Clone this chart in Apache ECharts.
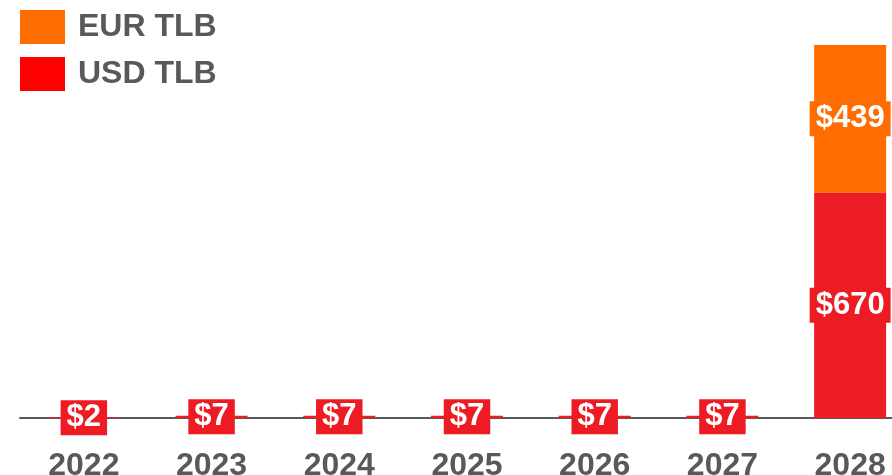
<!DOCTYPE html>
<html>
<head>
<meta charset="utf-8">
<script src="https://cdn.jsdelivr.net/npm/echarts@6/dist/echarts.min.js"></script>
<style>html,body{margin:0;padding:0;background:#fff}#c{width:892px;height:475px}</style>
</head>
<body>
<div id="c"></div>
<script>
var years = ['2022', '2023', '2024', '2025', '2026', '2027', '2028'];
var usdTLB = [2, 7, 7, 7, 7, 7, 670];
var eurTLB = [null, null, null, null, null, null, 439];

var chart = echarts.init(document.getElementById('c'), null, {renderer: 'canvas'});
var FONT = '"Liberation Sans", Arial, sans-serif';
var GREY = '#595959';
function lbl(bg) {
  return {
    show: true, position: 'inside', formatter: '${c}',
    color: '#fff', fontFamily: FONT, fontWeight: 'bold', fontSize: 31,
    backgroundColor: bg, padding: [2, 6, 1, 6], lineHeight: 32
  };
}
chart.setOption({
  animation: false,
  legend: {
    orient: 'vertical', left: 20, top: 10, padding: 0,
    itemWidth: 45, itemHeight: 34, itemGap: 13,
    icon: 'rect',
    textStyle: {color: GREY, fontFamily: FONT, fontWeight: 'bold', fontSize: 32, padding: [0, 0, 0, 8]},
    data: [
      {name: 'EUR TLB', itemStyle: {color: '#FF6D00'}},
      {name: 'USD TLB', itemStyle: {color: '#FF0000'}}
    ]
  },
  grid: {left: 20, top: 45, width: 894, height: 373, outerBoundsMode: 'none', containLabel: false},
  xAxis: {
    type: 'category', data: years,
    axisLine: {lineStyle: {color: GREY, width: 2}},
    axisTick: {show: false},
    axisLabel: {color: GREY, fontFamily: FONT, fontWeight: 'bold', fontSize: 32, margin: 32}
  },
  yAxis: {type: 'value', min: 0, max: 1109, show: false, splitLine: {show: false}},
  series: [
    {name: 'USD TLB', type: 'bar', stack: 'a', barWidth: 72, data: usdTLB,
     itemStyle: {color: '#ED1C24'}, label: lbl('#ED1C24'), z: 3},
    {name: 'EUR TLB', type: 'bar', stack: 'a', barWidth: 72, data: eurTLB,
     itemStyle: {color: '#FF6D00'}, label: lbl('#FF6D00'), z: 2}
  ]
});
</script>
</body>
</html>
